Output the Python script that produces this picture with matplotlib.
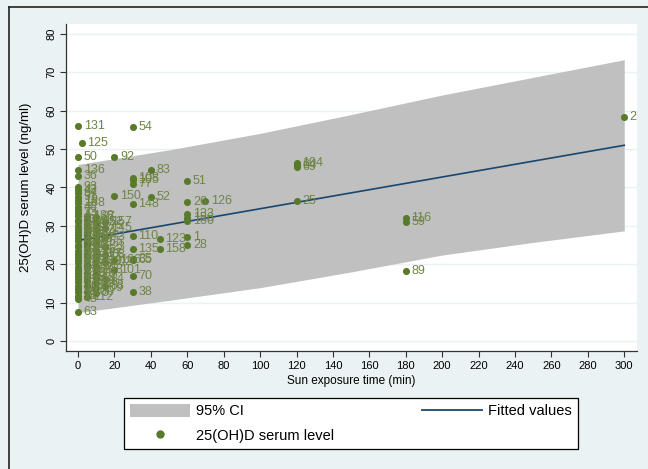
import matplotlib
matplotlib.use("Agg")
import matplotlib.pyplot as plt
from matplotlib.lines import Line2D
from matplotlib.patches import Patch

# sun exposure (min), 25(OH)D (ng/ml), observation number
sun_min = [0, 30, 2, 0, 20, 0, 0, 40, 30, 30, 30, 60, 20, 40, 30, 60, 70,
           60, 60, 60, 30, 45, 60, 30, 45, 60, 30, 30, 30, 30, 20, 20, 15,
           120, 120, 120, 120, 180, 180, 180, 300, 0]
vitd = [56.0, 55.7, 51.6, 48.0, 47.9, 44.5, 42.9, 44.6, 42.6, 41.9, 41.0,
        41.8, 37.8, 37.6, 35.8, 36.1, 36.4, 33.0, 32.1, 31.4, 27.4, 26.6,
        27.2, 24.0, 24.0, 25.0, 21.5, 21.0, 17.0, 12.8, 18.5, 21.2, 14.3,
        46.3, 45.9, 45.4, 36.4, 32.0, 30.9, 18.2, 58.3, 7.6]
obs_id = ['131', '54', '125', '50', '92', '136', '36', '83', '108', '105',
          '77', '51', '150', '52', '148', '26', '126', '133', '156', '160',
          '110', '123', '1', '135', '158', '28', '35', '65', '70', '38',
          '101', '166', '88', '104', '64', '69', '25', '116', '59', '89',
          '2', '63']

# dense group of short exposure times
sun_min += [0] * 36
vitd += [40.1, 39.3, 38.6, 37.6, 36.8, 35.9, 35.0, 34.2, 33.3, 32.5, 31.6,
         30.9, 30.0, 29.2, 28.5, 27.6, 26.8, 26.0, 25.1, 24.4, 23.5, 22.7,
         21.9, 21.0, 20.3, 19.4, 18.6, 17.8, 17.0, 16.1, 15.3, 14.4, 13.6,
         12.7, 11.8, 10.9]
obs_id += ['93', '43', '94', '91', '19', '168', '48', '7', '33', '12', '57',
           '144', '80', '21', '66', '118', '3', '49', '141', '75', '14',
           '97', '30', '129', '61', '84', '4', '120', '41', '9', '137', '107',
           '16', '99', '71', '45']

sun_min += [5] * 21
vitd += [32.6, 31.5, 30.6, 29.5, 28.4, 27.5, 26.6, 25.6, 24.7, 23.6, 22.6,
         21.8, 20.9, 19.8, 18.9, 17.8, 16.7, 15.6, 14.4, 12.9, 11.4]
obs_id += ['188', '140', '29', '58', '11', '95', '113', '161', '44', '6',
           '121', '85', '32', '147', '106', '39', '72', '139', '17', '100',
           '112']

sun_min += [10] * 19
vitd += [32.2, 31.0, 30.0, 28.9, 27.9, 26.9, 25.8, 24.9, 23.8, 22.8, 21.8,
         20.8, 19.6, 18.6, 17.4, 16.3, 15.0, 13.8, 12.5]
obs_id += ['27', '152', '175', '42', '10', '87', '155', '8', '162', '117',
           '53', '119', '22', '138', '76', '13', '99', '109', '5']

sun_min += [15] * 7
vitd += [30.9, 29.4, 27.0, 24.4, 22.3, 20.6, 16.1]
obs_id += ['157', '145', '73', '23', '68', '102', '34']

# fitted line and 95% CI band
fit_x = [0, 300]
fit_y = [26.2, 51.0]
ci_x = [0, 50, 100, 150, 200, 250, 300]
ci_hi = [46.0, 49.8, 54.1, 59.0, 64.1, 68.7, 73.3]
ci_lo = [7.4, 10.6, 13.9, 18.0, 22.4, 25.7, 28.7]

bg = '#eaf2f3'
dot_c = '#587a2b'
lab_c = '#6e8445'
narrow = ['Liberation Sans Narrow', 'Liberation Sans', 'DejaVu Sans']
W, H = 648, 469

fig = plt.figure(figsize=(6.48, 4.69), dpi=100, facecolor=bg)
ax = fig.add_axes([66 / W, (H - 351) / H, (637 - 66) / W, (351 - 24) / H])
ax.set_facecolor('white')

ax.fill_between(ci_x, ci_lo, ci_hi, color='#c0c0c0', lw=0, zorder=1)
ax.plot(fit_x, fit_y, color='#1a476f', lw=1.2, zorder=2)
ax.scatter(sun_min, vitd, s=26, color=dot_c, zorder=3, linewidths=0)
for xx, yy, t in zip(sun_min, vitd, obs_id):
    ax.annotate(t, (xx, yy), xytext=(4, 0), textcoords='offset points',
                va='center', ha='left', fontsize=9, color=lab_c,
                family=['Liberation Sans', 'DejaVu Sans'], zorder=4,
                annotation_clip=False)

ax.set_xlim(-6.6, 307)
ax.set_ylim(-2.6, 82.6)
ax.set_xticks(range(0, 301, 20))
ax.set_yticks(range(0, 81, 10))
ax.grid(axis='y', color=bg, lw=1.0, zorder=0)
ax.set_axisbelow(True)
for s in ['top', 'right']:
    ax.spines[s].set_visible(False)
for s in ['left', 'bottom']:
    ax.spines[s].set_color('#333333')
    ax.spines[s].set_linewidth(0.9)
ax.tick_params(axis='both', direction='out', length=4, width=0.8,
               color='#333333', labelsize=8, pad=3)
for lbl in ax.get_xticklabels() + ax.get_yticklabels():
    lbl.set_family(narrow)
for lbl in ax.get_yticklabels():
    lbl.set_rotation(90)
    lbl.set_va('center')

ax.set_xlabel('Sun exposure time (min)', fontsize=8.5, family=narrow,
              labelpad=3)
ax.set_ylabel('25(OH)D serum level (ng/ml)', fontsize=9.5,
              family=['Liberation Sans', 'DejaVu Sans'], labelpad=10)

handles = [Patch(facecolor='#c0c0c0', edgecolor='none'),
           Line2D([], [], ls='none', marker='o', ms=5, color=dot_c),
           Line2D([], [], color='#1a476f', lw=1.3)]
labels = ['95% CI', '25(OH)D serum level', 'Fitted values']
leg = fig.legend(handles, labels, ncol=2, loc='center', mode='expand',
                 bbox_to_anchor=(117 / W, (H - 454) / H, 468 / W, 61 / H),
                 fancybox=False, edgecolor='black', facecolor='white',
                 framealpha=1, handlelength=4.1, handleheight=1.0,
                 handletextpad=0.45, labelspacing=0.7, borderpad=0.4,
                 prop={'family': ['Liberation Sans', 'DejaVu Sans'],
                       'size': 10.5})
leg.get_frame().set_linewidth(0.9)

# outer graph border (left and top)
fig.add_artist(Line2D([9 / W, 9 / W], [0, (H - 7) / H], color='#222222',
                      lw=1.2, transform=fig.transFigure))
fig.add_artist(Line2D([9 / W, 1], [(H - 7) / H, (H - 7) / H],
                      color='#222222', lw=1.2, transform=fig.transFigure))

fig.savefig('out.png', dpi=100, facecolor=bg)
